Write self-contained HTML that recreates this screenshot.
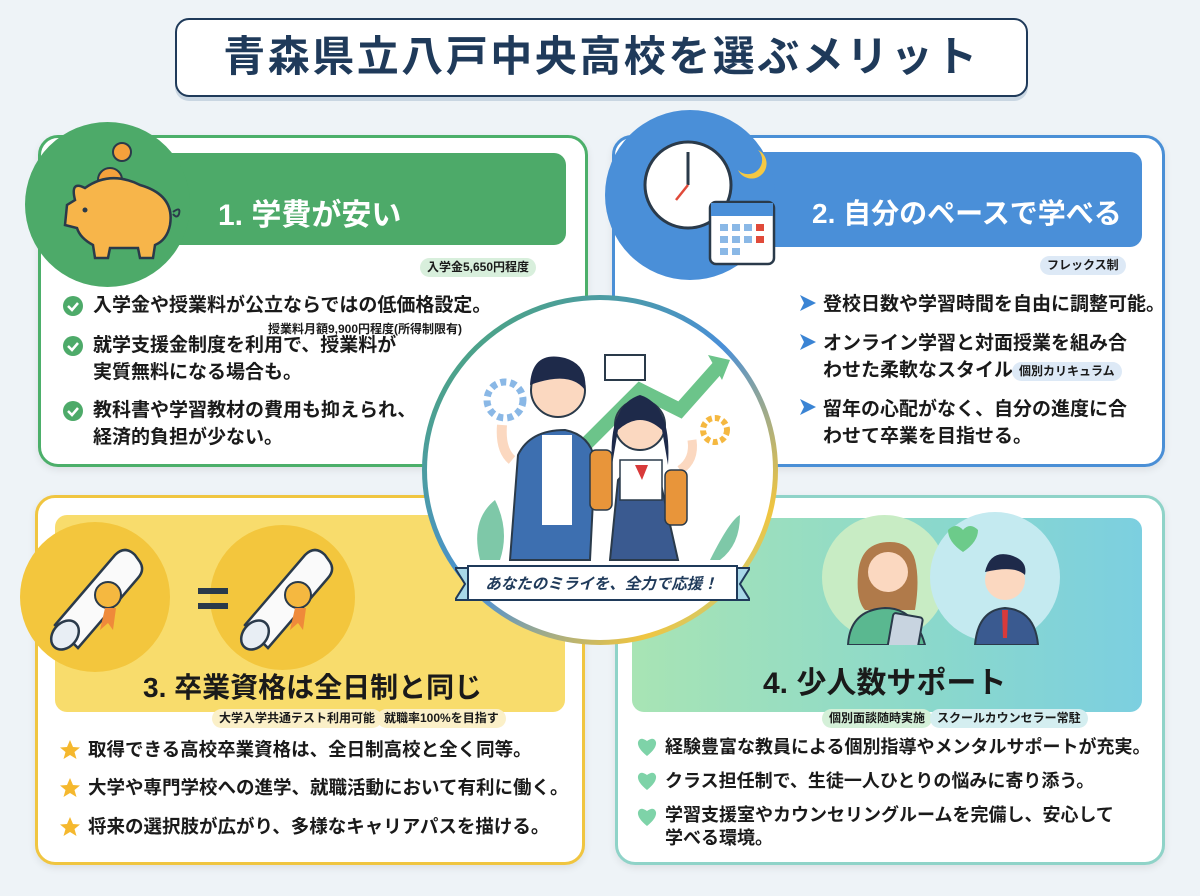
<!DOCTYPE html>
<html><head><meta charset="utf-8">
<style>
*{margin:0;padding:0;box-sizing:border-box}
body{width:1200px;height:896px;background:#eef3f7;position:relative;overflow:hidden;font-family:"Liberation Sans","Noto Sans CJK JP",sans-serif;color:#1a1a1a}
.a{position:absolute}
.panel{position:absolute;background:#fff;border-radius:20px;box-shadow:0 3px 8px rgba(0,0,0,.08)}
.t{position:absolute;font-weight:700;white-space:nowrap}
.tag{position:absolute;font-size:12px;font-weight:700;padding:2px 7px;border-radius:10px;white-space:nowrap;line-height:15px}
.bl{position:absolute;font-size:19px;font-weight:700;line-height:27px;white-space:nowrap}
</style></head><body>

<!-- title -->
<div class="a" style="left:175px;top:18px;width:853px;height:79px;border:2.5px solid #1f3a5a;border-radius:14px;background:#fff;box-shadow:0 4px 0 #c9d6e2"></div>
<div class="t" style="left:175px;top:30px;width:853px;text-align:center;font-size:42px;letter-spacing:2.5px;color:#1f3a5a;line-height:54px">青森県立八戸中央高校を選ぶメリット</div>

<!-- Panel 1 -->
<div class="panel" style="left:38px;top:135px;width:550px;height:332px;border:3px solid #4caf6a"></div>
<div class="a" style="left:60px;top:153px;width:506px;height:92px;background:#4daa69;border-radius:12px"></div>
<div class="a" style="left:25px;top:122px;width:165px;height:165px;background:#4daa69;border-radius:50%"></div>
<svg class="a" style="left:55px;top:140px" width="140" height="140" viewBox="0 0 140 140">
<circle cx="67" cy="12" r="9" fill="#f5a13c" stroke="#2a3a4a" stroke-width="2"/>
<circle cx="55" cy="40" r="12" fill="#f5a13c" stroke="#2a3a4a" stroke-width="2"/>
<path d="M20 60 Q15 40 30 48 Q55 30 85 45 Q120 55 115 85 Q112 100 100 105 L98 118 L85 118 L83 108 L55 108 L53 118 L40 118 L38 105 Q25 98 22 88 L10 85 L12 65 Z" fill="#f7b54a" stroke="#2a3a4a" stroke-width="2.5"/>
<circle cx="30" cy="70" r="2.5" fill="#2a3a4a"/>
<path d="M118 72 q8 -6 6 2 q-2 5 -6 0" fill="none" stroke="#2a3a4a" stroke-width="2"/>
</svg>
<div class="t" style="left:218px;top:190px;font-size:30px;color:#fff">1. 学費が安い</div>
<div class="tag" style="left:420px;top:258px;background:#d8efdc">入学金5,650円程度</div>
<svg class="a" style="left:62px;top:295px" width="22" height="150"><g fill="#4daa69"><circle cx="11" cy="11" r="10"/><circle cx="11" cy="51" r="10"/><circle cx="11" cy="116" r="10"/></g><g stroke="#fff" stroke-width="2.5" fill="none"><path d="M6 11 l4 4 l6 -7"/><path d="M6 51 l4 4 l6 -7"/><path d="M6 116 l4 4 l6 -7"/></g></svg>
<div class="bl" style="left:93px;top:292px">入学金や授業料が公立ならではの低価格設定。</div>
<div class="t" style="left:268px;top:320px;font-size:12px;font-weight:700">授業料月額9,900円程度(所得制限有)</div>
<div class="bl" style="left:93px;top:332px">就学支援金制度を利用で、授業料が<br>実質無料になる場合も。</div>
<div class="bl" style="left:93px;top:397px">教科書や学習教材の費用も抑えられ、<br>経済的負担が少ない。</div>

<!-- Panel 2 -->
<div class="panel" style="left:612px;top:135px;width:553px;height:332px;border:3px solid #4a8fd6"></div>
<div class="a" style="left:640px;top:152px;width:502px;height:95px;background:#4a8fd8;border-radius:12px"></div>
<div class="a" style="left:605px;top:110px;width:170px;height:170px;background:#4a8fd8;border-radius:50%"></div>
<svg class="a" style="left:640px;top:130px" width="160" height="140">
<circle cx="48" cy="55" r="43" fill="#fff" stroke="#2a3a4a" stroke-width="3"/>
<line x1="48" y1="55" x2="48" y2="22" stroke="#2a3a4a" stroke-width="3"/>
<line x1="48" y1="55" x2="36" y2="70" stroke="#e04a3a" stroke-width="2.5"/>
<path d="M118 20 a15 15 0 1 1 -20 20 a12 12 0 0 0 20 -20z" fill="#f5c842"/>
<rect x="70" y="72" width="64" height="62" rx="6" fill="#fff" stroke="#2a3a4a" stroke-width="2.5"/>
<rect x="71" y="73" width="62" height="13" fill="#4a8fd8"/>
<g fill="#8ab8e6"><rect x="80" y="94" width="8" height="7"/><rect x="92" y="94" width="8" height="7"/><rect x="104" y="94" width="8" height="7"/><rect x="80" y="106" width="8" height="7"/><rect x="92" y="106" width="8" height="7"/><rect x="104" y="106" width="8" height="7"/><rect x="80" y="118" width="8" height="7"/><rect x="92" y="118" width="8" height="7"/></g>
<rect x="116" y="94" width="8" height="7" fill="#e04a3a"/><rect x="116" y="106" width="8" height="7" fill="#e04a3a"/>
</svg>
<div class="t" style="left:812px;top:192px;font-size:28px;color:#fff">2. 自分のペースで学べる</div>
<div class="tag" style="left:1040px;top:256px;background:#dde9f6">フレックス制</div>
<svg class="a" style="left:798px;top:293px" width="20" height="150"><g fill="#3a84d4"><path d="M2 2 L18 10 L2 18 L6 10Z"/><path d="M2 41 L18 49 L2 57 L6 49Z"/><path d="M2 106 L18 114 L2 122 L6 114Z"/></g></svg>
<div class="bl" style="left:823px;top:291px">登校日数や学習時間を自由に調整可能。</div>
<div class="bl" style="left:823px;top:330px">オンライン学習と対面授業を組み合<br>わせた柔軟なスタイル。</div>
<div class="tag" style="left:1012px;top:362px;background:#dde9f6">個別カリキュラム</div>
<div class="bl" style="left:823px;top:396px">留年の心配がなく、自分の進度に合<br>わせて卒業を目指せる。</div>

<!-- Panel 3 -->
<div class="panel" style="left:35px;top:495px;width:550px;height:370px;border:3px solid #f0c540"></div>
<div class="a" style="left:55px;top:515px;width:510px;height:197px;background:#f8dc6c;border-radius:12px"></div>
<div class="a" style="left:20px;top:522px;width:150px;height:150px;background:#f3c63d;border-radius:50%"></div>
<div class="a" style="left:210px;top:525px;width:145px;height:145px;background:#f3c63d;border-radius:50%"></div>
<svg class="a" style="left:40px;top:530px" width="300" height="130">
<g id="sc"><path d="M15 95 L75 25 Q85 15 95 25 L100 32 Q105 40 98 48 L38 118 Z" fill="#fafafa" stroke="#2a3a4a" stroke-width="2.5"/><ellipse cx="25" cy="105" rx="12" ry="16" transform="rotate(40 25 105)" fill="#e8eef4" stroke="#2a3a4a" stroke-width="2.5"/><circle cx="68" cy="65" r="13" fill="#f5b840" stroke="#2a3a4a" stroke-width="2"/><path d="M65 78 L60 100 L68 93 L73 100 L76 78Z" fill="#ef8a3a"/></g>
<use href="#sc" x="190" y="0"/>
<rect x="158" y="58" width="30" height="6" fill="#2a3a4a"/><rect x="158" y="73" width="30" height="6" fill="#2a3a4a"/>
</svg>
<div class="t" style="left:143px;top:666px;font-size:28px">3. 卒業資格は全日制と同じ</div>
<div class="tag" style="left:212px;top:709px;background:#fbf0c8">大学入学共通テスト利用可能</div>
<div class="tag" style="left:377px;top:709px;background:#fbf0c8">就職率100%を目指す</div>
<svg class="a" style="left:58px;top:738px" width="24" height="110"><g fill="#f5b82e"><path id="st" d="M12 2 L15 9 L22 9.5 L16.5 14 L18.5 21 L12 17 L5.5 21 L7.5 14 L2 9.5 L9 9Z"/><use href="#st" y="38"/><use href="#st" y="77"/></g></svg>
<div class="bl" style="left:88px;top:736px;font-size:18.5px">取得できる高校卒業資格は、全日制高校と全く同等。</div>
<div class="bl" style="left:88px;top:774px;font-size:18.5px">大学や専門学校への進学、就職活動において有利に働く。</div>
<div class="bl" style="left:88px;top:813px;font-size:18.5px">将来の選択肢が広がり、多様なキャリアパスを描ける。</div>

<!-- Panel 4 -->
<div class="panel" style="left:615px;top:495px;width:550px;height:370px;border:3px solid #8fd3c8"></div>
<div class="a" style="left:632px;top:518px;width:510px;height:194px;background:linear-gradient(90deg,#a8e4b4,#8ad8cc 60%,#7ccfe0);border-radius:12px"></div>
<div class="a" style="left:822px;top:515px;width:125px;height:125px;background:#c8ecc4;border-radius:50%"></div>
<div class="a" style="left:930px;top:512px;width:130px;height:130px;background:#c4eaf0;border-radius:50%"></div>
<svg class="a" style="left:830px;top:520px" width="230" height="125">
<path d="M60 22 Q30 22 28 55 Q26 80 35 90 L85 90 Q90 60 85 40 Q80 22 60 22Z" fill="#b07a4a"/>
<circle cx="58" cy="52" r="20" fill="#fbd8c0"/>
<path d="M18 125 Q20 90 55 88 Q85 88 95 125Z" fill="#5ab890" stroke="#2a3a4a" stroke-width="2"/>
<rect x="60" y="95" width="30" height="38" rx="3" fill="#c8d4e0" stroke="#2a3a4a" stroke-width="2" transform="rotate(10 75 114)"/>
<path d="M118 10 q8 -8 15 0 q7 -8 15 0 q0 12 -15 22 q-15 -10 -15 -22z" fill="#6ccb8a"/>
<circle cx="175" cy="60" r="20" fill="#fbd8c0"/>
<path d="M155 52 Q160 30 180 35 Q198 40 195 55 Q185 45 155 52Z" fill="#1e2a4a"/>
<path d="M145 125 Q148 90 175 88 Q205 90 208 125Z" fill="#3a5a90" stroke="#2a3a4a" stroke-width="2"/>
<path d="M172 90 L178 90 L177 118 L173 118Z" fill="#d83a3a"/>
</svg>
<div class="t" style="left:763px;top:658px;font-size:30px">4. 少人数サポート</div>
<div class="tag" style="left:822px;top:709px;background:#d4f0d8">個別面談随時実施</div>
<div class="tag" style="left:930px;top:709px;background:#d4eef0">スクールカウンセラー常駐</div>
<svg class="a" style="left:636px;top:736px" width="22" height="110"><g fill="#7ed3a8"><path id="ht" d="M11 20 Q1 12 2 6 Q4 0 11 5 Q18 0 20 6 Q21 12 11 20Z"/><use href="#ht" y="34"/><use href="#ht" y="70"/></g></svg>
<div class="bl" style="left:665px;top:734px;font-size:18px">経験豊富な教員による個別指導やメンタルサポートが充実。</div>
<div class="bl" style="left:665px;top:768px;font-size:18px">クラス担任制で、生徒一人ひとりの悩みに寄り添う。</div>
<div class="bl" style="left:665px;top:804px;font-size:18px;line-height:23px">学習支援室やカウンセリングルームを完備し、安心して<br>学べる環境。</div>

<!-- center circle -->
<div class="a" style="left:422px;top:295px;width:356px;height:350px;border-radius:50%;background:linear-gradient(135deg,#4daa69,#4a8fd8 50%,#f0c540 80%,#8fd3c8);"></div>
<div class="a" style="left:427px;top:300px;width:346px;height:340px;border-radius:50%;background:#fff"></div>
<svg class="a" style="left:440px;top:320px" width="320" height="250">
<path d="M140 130 L200 70 L240 90 L280 45" fill="none" stroke="#6cc48a" stroke-width="14"/>
<path d="M268 35 L290 40 L282 60Z" fill="#6cc48a"/>
<circle cx="65" cy="80" r="18" fill="none" stroke="#8ab8e6" stroke-width="7" stroke-dasharray="6 4"/>
<circle cx="275" cy="110" r="12" fill="none" stroke="#f5b840" stroke-width="6" stroke-dasharray="5 3"/>
<rect x="165" y="35" width="40" height="25" fill="#fff" stroke="#2a3a4a" stroke-width="2"/>
<path d="M40 240 Q30 200 55 180 Q70 210 60 240Z" fill="#7ec8a8"/>
<path d="M270 240 Q290 200 300 195 Q300 225 280 240Z" fill="#7ec8a8"/>
<path d="M70 240 L78 135 Q90 110 125 110 Q150 115 155 140 L150 240Z" fill="#3d6fb0" stroke="#2a3a4a" stroke-width="2"/>
<rect x="102" y="115" width="30" height="90" fill="#fff"/>
<circle cx="118" cy="70" r="27" fill="#fbd8c0" stroke="#2a3a4a" stroke-width="2"/>
<path d="M90 65 Q92 30 125 38 Q148 45 145 70 Q130 50 90 65Z" fill="#1e2a4a"/>
<path d="M72 140 Q60 130 62 105" fill="none" stroke="#fbd8c0" stroke-width="10"/>
<path d="M170 240 L178 160 Q195 140 220 160 L238 240Z" fill="#3a5a90" stroke="#2a3a4a" stroke-width="2"/>
<rect x="180" y="140" width="42" height="40" fill="#fff" stroke="#2a3a4a" stroke-width="1.5"/>
<path d="M195 145 L208 145 L202 160Z" fill="#d83a3a"/>
<circle cx="200" cy="105" r="25" fill="#fbd8c0" stroke="#2a3a4a" stroke-width="2"/>
<path d="M172 145 Q168 85 200 75 Q232 85 228 145 L222 110 Q200 90 178 110Z" fill="#1e2a4a"/>
<path d="M240 150 Q255 140 252 120" fill="none" stroke="#fbd8c0" stroke-width="9"/>
<rect x="150" y="130" width="22" height="60" rx="6" fill="#e8953a" stroke="#2a3a4a" stroke-width="1.5"/>
<rect x="225" y="150" width="22" height="55" rx="6" fill="#e8953a" stroke="#2a3a4a" stroke-width="1.5"/>
</svg>
<svg class="a" style="left:455px;top:560px" width="295" height="48"><path d="M0 8 L22 8 L22 40 L0 40 L10 24Z" fill="#a8d8e8" stroke="#1f3a5a" stroke-width="2"/><path d="M295 8 L273 8 L273 40 L295 40 L285 24Z" fill="#a8d8e8" stroke="#1f3a5a" stroke-width="2"/><rect x="13" y="6" width="269" height="34" fill="#fff" stroke="#1f3a5a" stroke-width="2"/></svg>
<div class="t" style="left:468px;top:572px;width:267px;text-align:center;font-size:15.5px;font-style:italic;color:#1f3a5a">あなたのミライを、全力で応援！</div>

</body></html>
